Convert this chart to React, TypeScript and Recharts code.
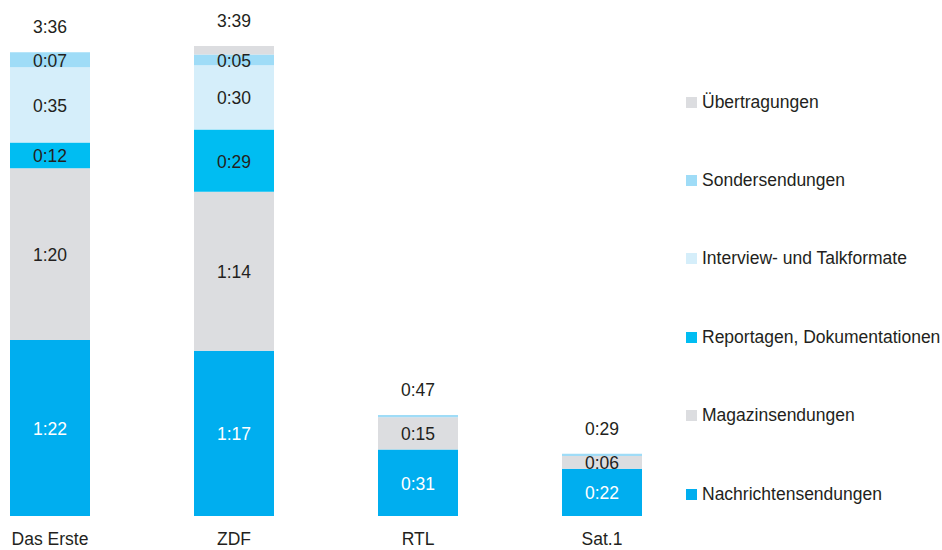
import { Bar, BarChart, LabelList, Legend, XAxis, YAxis } from "recharts";

const channels = ["Das Erste", "ZDF", "RTL", "Sat.1"];

// minutes per day
const nachrichten = [82, 77, 31, 22];
const magazin = [80, 74, 15, 6];
const reportagen = [12, 29, 0, 0];
const interview = [35, 30, 0, 0];
const sonder = [7, 5, 1, 1];
const uebertragungen = [0, 4, 0, 0];

const FONT = '"Liberation Sans", Arial, sans-serif';
const FS = 17.5;
const INK = "#231f20";

const series = [
  { key: "nachrichten", name: "Nachrichtensendungen", color: "#00aeef", text: "#ffffff", values: nachrichten },
  { key: "magazin", name: "Magazinsendungen", color: "#dcdde0", text: INK, values: magazin },
  { key: "reportagen", name: "Reportagen, Dokumentationen", color: "#00bdf2", text: INK, values: reportagen },
  { key: "interview", name: "Interview- und Talkformate", color: "#d5eefa", text: INK, values: interview },
  { key: "sonder", name: "Sondersendungen", color: "#9fdcf7", text: INK, values: sonder },
  { key: "uebertragungen", name: "Übertragungen", color: "#dcdde0", text: INK, values: uebertragungen },
];

const data = channels.map((name, i) => ({
  idx: i,
  name,
  nachrichten: nachrichten[i],
  magazin: magazin[i],
  reportagen: reportagen[i],
  interview: interview[i],
  sonder: sonder[i],
  uebertragungen: uebertragungen[i],
}));

const totals = channels.map((_, i) => series.reduce((sum, s) => sum + s.values[i], 0));
// index of the highest non-empty segment per channel, carries the total label
const topSeries = channels.map((_, i) => {
  let top = 0;
  series.forEach((s, k) => {
    if (s.values[i] > 0) top = k;
  });
  return top;
});

const fmt = (m: number) => `${Math.floor(m / 60)}:${String(m % 60).padStart(2, "0")}`;

const segmentLabel = (fill: string) => (props: any) => {
  const { x, y, width, height, value } = props;
  if (!value || value < 5) return null;
  return (
    <text
      x={Number(x) + Number(width) / 2}
      y={Number(y) + Number(height) / 2 + 1}
      textAnchor="middle"
      dominantBaseline="central"
      fill={fill}
      fontSize={FS}
      fontFamily={FONT}
    >
      {fmt(value)}
    </text>
  );
};

const totalLabel = (k: number) => (props: any) => {
  const { x, y, width, value } = props;
  const i = channels.indexOf(value);
  if (i < 0 || topSeries[i] !== k) return null;
  return (
    <text
      x={Number(x) + Number(width) / 2}
      y={Number(y) - 25}
      textAnchor="middle"
      dominantBaseline="central"
      fill={INK}
      fontSize={FS}
      fontFamily={FONT}
    >
      {fmt(totals[i])}
    </text>
  );
};

const LegendBox = () => (
  <div style={{ fontFamily: FONT, fontSize: FS, color: INK }}>
    {series.slice().reverse().map((s) => (
      <div key={s.key} style={{ height: 78.4, display: "flex", alignItems: "center", whiteSpace: "nowrap" }}>
        <span
          style={{ width: 11, height: 11, background: s.color, marginRight: 5, display: "inline-block" }}
        />
        <span>{s.name}</span>
      </div>
    ))}
  </div>
);

export default function App() {
  return (
    <div style={{ position: "absolute", left: 0, top: 0, width: 942, height: 550, background: "#fff" }}>
      <BarChart
        width={942}
        height={550}
        data={data}
        margin={{ top: 33, right: 294, left: 4, bottom: 0 }}
      >
        <XAxis
          dataKey="idx"
          type="number"
          domain={[-0.25, 3.25]}
          ticks={[0, 1, 2, 3]}
          tickFormatter={(i: number) => channels[i]}
          axisLine={false}
          tickLine={false}
          height={34}
          interval={0}
          tick={{ fill: INK, fontSize: FS, fontFamily: FONT, dy: 9 }}
        />
        <YAxis hide domain={[0, 225]} />
        <Legend
          layout="vertical"
          align="center"
          verticalAlign="middle"
          content={<LegendBox />}
          wrapperStyle={{ position: "absolute", left: 686, top: 63, width: 256 }}
        />
        {series.map((s, k) => (
          <Bar
            key={s.key}
            dataKey={s.key}
            name={s.name}
            stackId="a"
            fill={s.color}
            barSize={80}
            isAnimationActive={false}
          >
            <LabelList dataKey={s.key} content={segmentLabel(s.text)} />
            <LabelList dataKey="name" content={totalLabel(k)} />
          </Bar>
        ))}
      </BarChart>
    </div>
  );
}
